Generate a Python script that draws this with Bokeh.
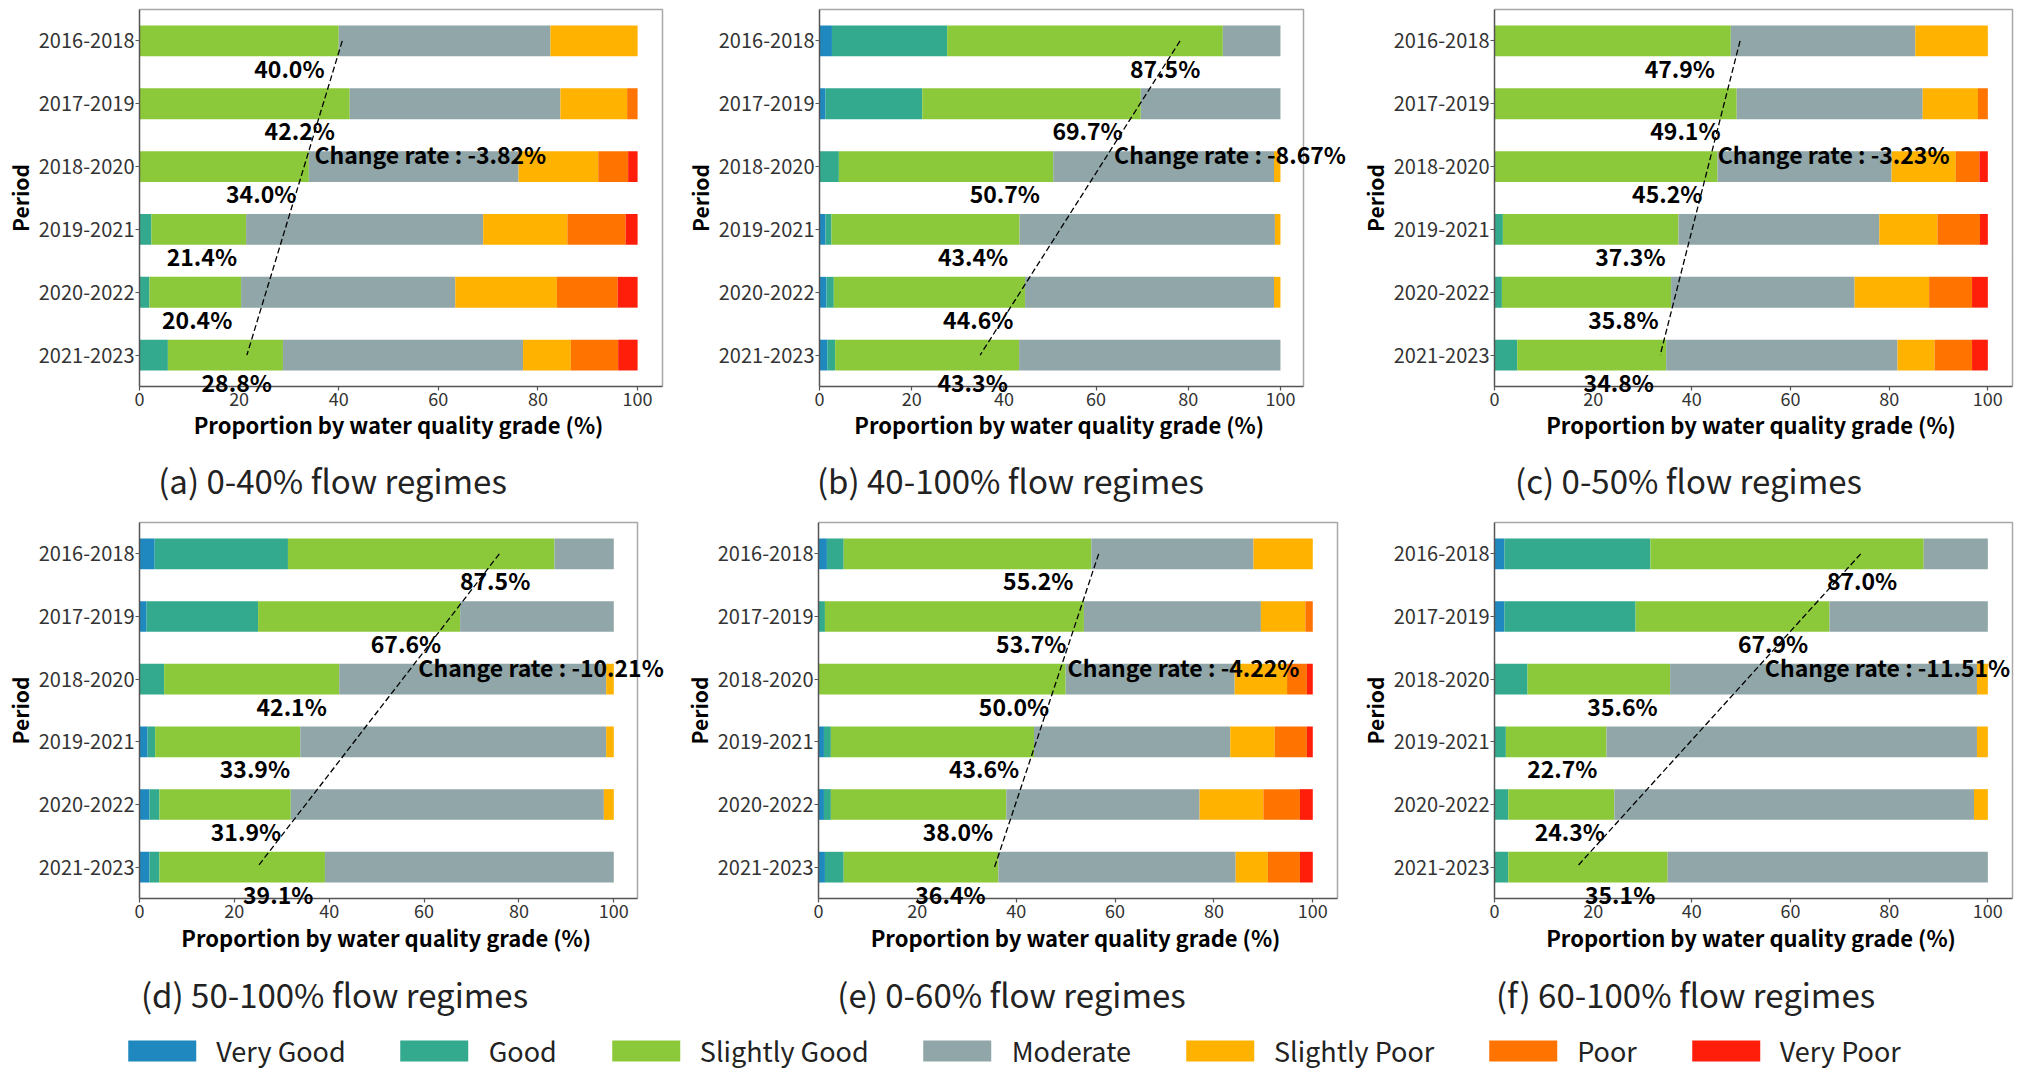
import numpy as np
from bokeh.plotting import figure
from bokeh.models import (ColumnDataSource, Range1d, FixedTicker, Label, LabelSet,
                          Legend, LegendItem)
from bokeh.layouts import column, row
from bokeh.core.properties import value
from bokeh.embed import file_html
from bokeh.resources import INLINE

periods = ["2016-2018", "2017-2019", "2018-2020", "2019-2021", "2020-2022", "2021-2023"]
grades = ["Very Good", "Good", "Slightly Good", "Moderate", "Slightly Poor", "Poor", "Very Poor"]
colors = ["#1f88be", "#33a98e", "#8cc93a", "#90a6a8", "#ffb200", "#ff7300", "#ff1e0a"]

# (a) 0-40%
a_very_good = [0, 0, 0, 0, 0, 0]
a_good = [0, 0, 0, 2.4, 2.0, 5.7]
a_slightly_good = [40.0, 42.2, 34.0, 19.0, 18.4, 23.1]
a_moderate = [42.5, 42.3, 42.1, 47.6, 43.0, 48.2]
a_slightly_poor = [17.5, 13.4, 16.0, 16.9, 20.4, 9.6]
a_poor = [0, 2.1, 6.0, 11.7, 12.2, 9.5]
a_very_poor = [0, 0, 1.9, 2.4, 4.0, 3.9]
a_labels = [40.0, 42.2, 34.0, 21.4, 20.4, 28.8]
a_rate = "-3.82%"
a_caption = "(a) 0-40% flow regimes"

# (b) 40-100%
b_very_good = [2.7, 1.3, 0, 1.3, 1.5, 1.7]
b_good = [25.0, 21.0, 4.2, 1.3, 1.6, 1.7]
b_slightly_good = [59.8, 47.4, 46.5, 40.8, 41.5, 39.9]
b_moderate = [12.5, 30.3, 47.9, 55.4, 54.0, 56.7]
b_slightly_poor = [0, 0, 1.4, 1.2, 1.4, 0]
b_poor = [0, 0, 0, 0, 0, 0]
b_very_poor = [0, 0, 0, 0, 0, 0]
b_labels = [87.5, 69.7, 50.7, 43.4, 44.6, 43.3]
b_rate = "-8.67%"
b_caption = "(b) 40-100% flow regimes"

# (c) 0-50%
c_very_good = [0, 0, 0, 0, 0, 0]
c_good = [0, 0, 0, 1.7, 1.5, 4.6]
c_slightly_good = [47.9, 49.1, 45.2, 35.6, 34.3, 30.2]
c_moderate = [37.4, 37.7, 35.3, 40.7, 37.2, 46.9]
c_slightly_poor = [14.7, 11.2, 13.0, 11.8, 15.1, 7.5]
c_poor = [0, 2.0, 4.8, 8.6, 8.7, 7.6]
c_very_poor = [0, 0, 1.7, 1.6, 3.2, 3.2]
c_labels = [47.9, 49.1, 45.2, 37.3, 35.8, 34.8]
c_rate = "-3.23%"
c_caption = "(c) 0-50% flow regimes"

# (d) 50-100%
d_very_good = [3.2, 1.5, 0, 1.7, 2.1, 2.1]
d_good = [28.1, 23.5, 5.2, 1.6, 2.1, 2.1]
d_slightly_good = [56.2, 42.6, 36.9, 30.6, 27.7, 34.9]
d_moderate = [12.5, 32.4, 56.3, 64.5, 66.0, 60.9]
d_slightly_poor = [0, 0, 1.6, 1.6, 2.1, 0]
d_poor = [0, 0, 0, 0, 0, 0]
d_very_poor = [0, 0, 0, 0, 0, 0]
d_labels = [87.5, 67.6, 42.1, 33.9, 31.9, 39.1]
d_rate = "-10.21%"
d_caption = "(d) 50-100% flow regimes"

# (e) 0-60%
e_very_good = [1.7, 0, 0, 1.1, 1.1, 1.3]
e_good = [3.4, 1.3, 0, 1.4, 1.4, 3.8]
e_slightly_good = [50.1, 52.4, 50.0, 41.1, 35.5, 31.3]
e_moderate = [32.8, 35.8, 34.2, 39.7, 39.1, 48.0]
e_slightly_poor = [12.0, 9.0, 10.6, 9.0, 12.9, 6.5]
e_poor = [0, 1.5, 4.0, 6.5, 7.4, 6.5]
e_very_poor = [0, 0, 1.2, 1.2, 2.6, 2.6]
e_labels = [55.2, 53.7, 50.0, 43.6, 38.0, 36.4]
e_rate = "-4.22%"
e_caption = "(e) 0-60% flow regimes"

# (f) 60-100%
f_very_good = [2.0, 2.0, 0, 0, 0, 0]
f_good = [29.6, 26.6, 6.7, 2.3, 2.8, 2.8]
f_slightly_good = [55.4, 39.3, 28.9, 20.4, 21.5, 32.3]
f_moderate = [13.0, 32.1, 62.2, 75.1, 72.9, 64.9]
f_slightly_poor = [0, 0, 2.2, 2.2, 2.8, 0]
f_poor = [0, 0, 0, 0, 0, 0]
f_very_poor = [0, 0, 0, 0, 0, 0]
f_labels = [87.0, 67.9, 35.6, 22.7, 24.3, 35.1]
f_rate = "-11.51%"
f_caption = "(f) 60-100% flow regimes"

FONT = "Noto Sans CJK KR"
X_VIS = 105.0          # visible x extent of each panel box


def make_panel(vals, labels, rate, caption, fig_w, fig_h, vis_left, vis_w,
               top_pad, vis_h, cap_dx, cap_dy, title_dy):
    """The frame fills the whole figure; both axes sit at fixed locations so that
    every text (ticks, titles, bottom labels, caption) lies inside the frame."""
    ppu_x = vis_w / X_VIS
    ppu_y = vis_h / 6.0
    below = fig_h - top_pad - vis_h
    p = figure(width=fig_w, height=fig_h,
               x_range=Range1d(-vis_left / ppu_x, (fig_w - vis_left) / ppu_x),
               y_range=Range1d(0.5 - below / ppu_y, 6.5 + top_pad / ppu_y),
               output_backend="svg", toolbar_location=None, min_border=0)
    p.background_fill_color = "white"
    p.border_fill_color = "white"
    p.outline_line_color = None
    p.xgrid.visible = False
    p.ygrid.visible = False

    pos = [6 - i for i in range(len(periods))]
    data = dict(pos=pos)
    for g, v in zip(grades, vals):
        data[g] = v
    src = ColumnDataSource(data)
    p.hbar_stack(grades, y="pos", height=0.49, color=colors, line_color=None, source=src)

    # panel box (top and right sides)
    p.line([0, X_VIS, X_VIS], [6.5, 6.5, 0.5], line_color="#a8a8a8", line_width=1.5)

    # percent labels below each bar
    lab_src = ColumnDataSource(dict(
        x=[0.945 * v - 7.7 for v in labels],
        y=[q - 0.425 for q in pos],
        t=[f"{v:.1f}%" for v in labels]))
    p.add_layout(LabelSet(x="x", y="y", text="t", source=lab_src, text_align="center",
                          text_baseline="middle", text_font=value(FONT), text_font_style="bold",
                          text_font_size="23px", text_color="black"))

    # regression trend line
    t = np.arange(len(labels))
    slope, intercept = np.polyfit(t, labels, 1)
    xs = [intercept + slope * t[0], intercept + slope * t[-1]]
    ys = [pos[0], pos[-1]]
    p.line(xs, ys, line_dash="6 3", line_color="black", line_width=1.3)

    y_txt = pos[2] + 0.2
    x_txt = intercept + slope * (pos[0] - y_txt) + 1.3
    p.add_layout(Label(x=x_txt, y=y_txt, text=f"Change rate : {rate}", text_align="left",
                       text_baseline="middle", text_font=FONT, text_font_style="bold",
                       text_font_size="23px", text_color="black"))

    # axis titles and caption
    p.add_layout(Label(x=X_VIS / 2 - 0.5, y=0.5 - title_dy / ppu_y,
                       text="Proportion by water quality grade (%)",
                       text_align="center", text_baseline="middle", text_font=FONT,
                       text_font_style="bold", text_font_size="22px", text_color="black"))
    p.add_layout(Label(x=-120 / ppu_x, y=3.5, text="Period", angle=np.pi / 2,
                       text_align="center", text_baseline="middle", text_font=FONT,
                       text_font_style="bold", text_font_size="21px", text_color="black"))
    p.add_layout(Label(x=cap_dx / ppu_x, y=0.5 - cap_dy / ppu_y, text=caption,
                       text_align="center", text_baseline="middle", text_font=FONT,
                       text_font_size="33px", text_color="#222222"))

    p.xaxis.ticker = FixedTicker(ticks=[0, 20, 40, 60, 80, 100])
    p.xaxis.fixed_location = 0.5
    p.xaxis.bounds = (0, X_VIS)
    p.yaxis.ticker = FixedTicker(ticks=pos)
    p.yaxis.fixed_location = 0
    p.yaxis.bounds = (0.5, 6.5)
    p.yaxis.major_label_overrides = {q: per for q, per in zip(pos, periods)}
    for ax in (p.xaxis[0], p.yaxis[0]):
        ax.axis_line_color = "#555555"
        ax.axis_line_width = 1.5
        ax.major_tick_line_color = "#555555"
        ax.major_tick_line_width = 1.2
        ax.major_tick_out = 4
        ax.major_tick_in = 0
        ax.minor_tick_line_color = None
        ax.major_label_text_font = FONT
        ax.major_label_text_color = "#333333"
        ax.major_label_standoff = 1
    p.xaxis.major_label_text_font_size = "18px"
    p.yaxis.major_label_text_font_size = "20px"
    return p


def vals_of(prefix):
    g = globals()
    return [g[f"{prefix}_{k}"] for k in
            ["very_good", "good", "slightly_good", "moderate", "slightly_poor", "poor", "very_poor"]]


# row 1 (y 0 .. 515): panel boxes from y=9 to y=386
pa = make_panel(vals_of("a"), a_labels, a_rate, a_caption, 675, 515, 139, 523, 9, 377, 193, 93, 37)
pb = make_panel(vals_of("b"), b_labels, b_rate, b_caption, 680, 515, 144, 484, 9, 377, 191, 93, 37)
pc = make_panel(vals_of("c"), c_labels, c_rate, c_caption, 665, 515, 139, 518, 9, 377, 194, 93, 37)
# row 2 (y 515 .. 1020): panel boxes from y=522 to y=898
pd = make_panel(vals_of("d"), d_labels, d_rate, d_caption, 675, 505, 139, 498, 7, 376, 195, 95, 38)
pe = make_panel(vals_of("e"), e_labels, e_rate, e_caption, 680, 505, 143, 519, 7, 376, 193, 95, 38)
pf = make_panel(vals_of("f"), f_labels, f_rate, f_caption, 665, 505, 139, 518, 7, 376, 191, 95, 38)

# legend strip (y 1020 .. 1072)
lg = figure(width=2020, height=52, x_range=Range1d(0, 1), y_range=Range1d(0, 1),
            x_axis_type=None, y_axis_type=None, output_backend="svg", toolbar_location=None,
            min_border_left=0, min_border_right=0, min_border_top=8, min_border_bottom=0)
lg.outline_line_color = None
lg.xgrid.visible = False
lg.ygrid.visible = False
items = []
for g, c in zip(grades, colors):
    r = lg.hbar(y=[0.5], left=[0], right=[0], height=0, fill_color=c, line_color=None)
    items.append(LegendItem(label=g, renderers=[r]))
legend = Legend(items=items, orientation="horizontal", location="center",
                glyph_width=85, glyph_height=26, label_standoff=12, spacing=46,
                padding=0, margin=0, border_line_color=None, background_fill_alpha=0,
                label_text_font=FONT, label_text_font_size="27px", label_text_color="#222222",
                label_height=26)
lg.add_layout(legend)

layout = column(row(pa, pb, pc), row(pd, pe, pf), lg)
open("out.html", "w").write(file_html(layout, INLINE))
